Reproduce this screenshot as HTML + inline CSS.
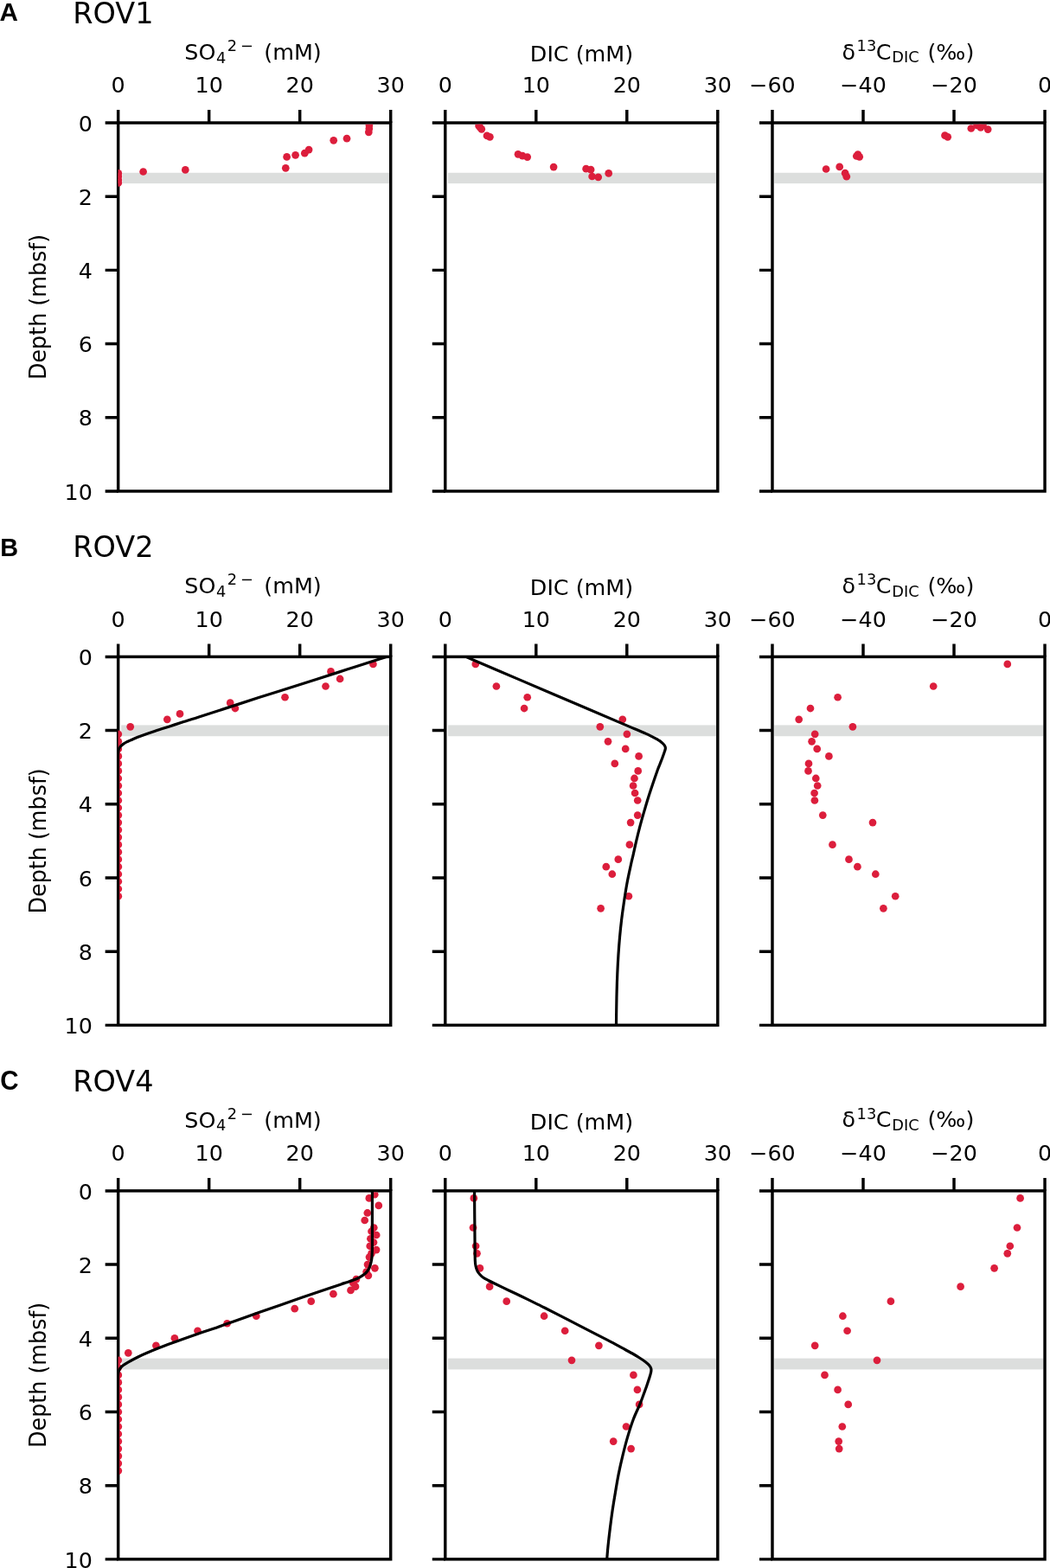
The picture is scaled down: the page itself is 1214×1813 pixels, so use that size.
<!DOCTYPE html>
<html lang="en">
<head>
<meta charset="utf-8">
<title>Porewater profiles ROV1, ROV2, ROV4</title>
<style>
html,body{margin:0;padding:0;background:#fff;}
svg{display:block;}
text{font-family:"DejaVu Sans", "Liberation Sans", sans-serif;fill:#000;}
.t{font-size:25.4px;}
.s{font-size:17.78px;}
.ttl{font-size:33.5px;}
.pl{font-size:30.2px;font-weight:bold;font-family:"Liberation Sans",sans-serif;}
.sp{fill:none;stroke:#000;stroke-width:3.45;stroke-linecap:square;}
.tk{fill:none;stroke:#000;stroke-width:3.45;stroke-linecap:butt;}
.cv{fill:none;stroke:#000;stroke-width:3.2;stroke-linejoin:round;stroke-linecap:butt;}
.d{fill:#dc1e3c;}
.b{fill:#dcdedd;}
</style>
</head>
<body>
<svg width="1214" height="1813" viewBox="0 0 1214 1813">
<rect x="0" y="0" width="1214" height="1813" fill="#fff"/>
<defs>
<clipPath id="c00"><rect x="135.65" y="142" width="316.05" height="425.95"/></clipPath>
<clipPath id="k00"><rect x="136.55" y="143.72" width="315.05" height="424.22"/></clipPath>
<clipPath id="c01"><rect x="513.76" y="142" width="316.05" height="425.95"/></clipPath>
<clipPath id="k01"><rect x="514.66" y="143.72" width="315.05" height="424.22"/></clipPath>
<clipPath id="c02"><rect x="891.98" y="142" width="316.05" height="425.95"/></clipPath>
<clipPath id="k02"><rect x="892.88" y="143.72" width="315.05" height="424.22"/></clipPath>
<clipPath id="c10"><rect x="135.65" y="759.4" width="316.05" height="425.95"/></clipPath>
<clipPath id="k10"><rect x="136.55" y="761.12" width="315.05" height="424.22"/></clipPath>
<clipPath id="c11"><rect x="513.76" y="759.4" width="316.05" height="425.95"/></clipPath>
<clipPath id="k11"><rect x="514.66" y="761.12" width="315.05" height="424.22"/></clipPath>
<clipPath id="c12"><rect x="891.98" y="759.4" width="316.05" height="425.95"/></clipPath>
<clipPath id="k12"><rect x="892.88" y="761.12" width="315.05" height="424.22"/></clipPath>
<clipPath id="c20"><rect x="135.65" y="1376.9" width="316.05" height="425.95"/></clipPath>
<clipPath id="k20"><rect x="136.55" y="1378.62" width="315.05" height="424.22"/></clipPath>
<clipPath id="c21"><rect x="513.76" y="1376.9" width="316.05" height="425.95"/></clipPath>
<clipPath id="k21"><rect x="514.66" y="1378.62" width="315.05" height="424.22"/></clipPath>
<clipPath id="c22"><rect x="891.98" y="1376.9" width="316.05" height="425.95"/></clipPath>
<clipPath id="k22"><rect x="892.88" y="1378.62" width="315.05" height="424.22"/></clipPath>
</defs>
<g id="row0">
<text class="pl" transform="translate(-0.4 23.9) scale(0.982 1.005)">A</text>
<text class="ttl" transform="translate(84.2 26.8) scale(1 1.001)">ROV1</text>
<text class="t" text-anchor="middle" transform="translate(53.1 354.98) rotate(-90) scale(1 1.045)">Depth (mbsf)</text>
<text class="t" text-anchor="end" transform="translate(106.9 151.7) scale(1 0.985)">0</text>
<text class="t" text-anchor="end" transform="translate(106.9 236.89) scale(1 0.985)">2</text>
<text class="t" text-anchor="end" transform="translate(106.9 322.08) scale(1 0.985)">4</text>
<text class="t" text-anchor="end" transform="translate(106.9 407.27) scale(1 0.985)">6</text>
<text class="t" text-anchor="end" transform="translate(106.9 492.46) scale(1 0.985)">8</text>
<text class="t" text-anchor="end" transform="translate(106.9 577.65) scale(1 0.985)">10</text>
<g id="p00">
<text class="t" transform="translate(213.28 68.7) scale(1 1.001)">SO</text><text class="s" transform="translate(249.88 72.5) scale(1 1.001)">4</text><text class="s" transform="translate(262.78 58.7) scale(1 1.001)">2</text><text class="s" transform="translate(278.07 58.7) scale(1 1.001)">−</text><text class="t" transform="translate(305.28 68.7) scale(1 1.001)">(mM)</text>
<text class="t" text-anchor="middle" transform="translate(136.65 107.4) scale(1 0.985)">0</text><text class="t" text-anchor="middle" transform="translate(241.67 107.4) scale(1 0.985)">10</text><text class="t" text-anchor="middle" transform="translate(346.68 107.4) scale(1 0.985)">20</text><text class="t" text-anchor="middle" transform="translate(451.7 107.4) scale(1 0.985)">30</text>
<rect class="b" x="141.45" y="199.76" width="308.75" height="12.35"/>
<path class="tk" d="M136.65 142 V127M241.67 142 V127M346.68 142 V127M451.7 142 V127M136.65 142 H121.65M136.65 227.19 H121.65M136.65 312.38 H121.65M136.65 397.57 H121.65M136.65 482.76 H121.65M136.65 567.95 H121.65"/>
<rect class="sp" x="136.65" y="142" width="315.05" height="425.95"/>
<g class="d" clip-path="url(#k00)"><circle cx="330.3" cy="194.3" r="4.35"/><circle cx="331.6" cy="181.4" r="4.35"/><circle cx="341.6" cy="179.3" r="4.35"/><circle cx="352.3" cy="177.2" r="4.35"/><circle cx="357.1" cy="173.1" r="4.35"/><circle cx="385.7" cy="162.3" r="4.35"/><circle cx="401" cy="160.2" r="4.35"/><circle cx="426.3" cy="152.8" r="4.35"/><circle cx="426.8" cy="148.8" r="4.35"/><circle cx="426.9" cy="144.9" r="4.35"/><circle cx="165.6" cy="198.5" r="4.35"/><circle cx="214.3" cy="196.4" r="4.35"/><circle cx="136.8" cy="200.4" r="4.35"/><circle cx="136.8" cy="204" r="4.35"/><circle cx="136.8" cy="208" r="4.35"/><circle cx="136.8" cy="211.4" r="4.35"/></g>
</g>
<g id="p01">
<text class="t" text-anchor="middle" transform="translate(672.49 70.6) scale(1 1.001)">DIC (mM)</text>
<text class="t" text-anchor="middle" transform="translate(514.76 107.4) scale(1 0.985)">0</text><text class="t" text-anchor="middle" transform="translate(619.78 107.4) scale(1 0.985)">10</text><text class="t" text-anchor="middle" transform="translate(724.79 107.4) scale(1 0.985)">20</text><text class="t" text-anchor="middle" transform="translate(829.81 107.4) scale(1 0.985)">30</text>
<rect class="b" x="517.96" y="199.76" width="310.35" height="12.35"/>
<path class="tk" d="M514.76 142 V127M619.78 142 V127M724.79 142 V127M829.81 142 V127M514.76 142 H499.76M514.76 227.19 H499.76M514.76 312.38 H499.76M514.76 397.57 H499.76M514.76 482.76 H499.76M514.76 567.95 H499.76"/>
<rect class="sp" x="514.76" y="142" width="315.05" height="425.95"/>
<g class="d" clip-path="url(#k01)"><circle cx="553.6" cy="145.4" r="4.35"/><circle cx="555" cy="147.2" r="4.35"/><circle cx="556.8" cy="149.3" r="4.35"/><circle cx="563" cy="156.9" r="4.35"/><circle cx="566.4" cy="158.3" r="4.35"/><circle cx="599" cy="178.3" r="4.35"/><circle cx="604.1" cy="180.2" r="4.35"/><circle cx="609.7" cy="181.6" r="4.35"/><circle cx="640.1" cy="193.1" r="4.35"/><circle cx="677.6" cy="195.2" r="4.35"/><circle cx="683.1" cy="196.2" r="4.35"/><circle cx="684.6" cy="204" r="4.35"/><circle cx="691.7" cy="204.8" r="4.35"/><circle cx="703.7" cy="200.4" r="4.35"/></g>
</g>
<g id="p02">
<text class="t" transform="translate(973.61 68.5) scale(1 1.001)">δ</text><text class="s" transform="translate(990.61 58.7) scale(1 1.001)">13</text><text class="t" transform="translate(1012.81 68.5) scale(1 1.001)">C</text><text class="s" transform="translate(1031.31 72.2) scale(1 1.001)">DIC</text><text class="t" transform="translate(1072.41 68.5) scale(1 1.001)">(‰)</text>
<text class="t" text-anchor="middle" transform="translate(892.98 107.4) scale(1 0.985)">−60</text><text class="t" text-anchor="middle" transform="translate(998 107.4) scale(1 0.985)">−40</text><text class="t" text-anchor="middle" transform="translate(1103.01 107.4) scale(1 0.985)">−20</text><text class="t" text-anchor="middle" transform="translate(1208.03 107.4) scale(1 0.985)">0</text>
<rect class="b" x="895.28" y="199.76" width="311.25" height="12.35"/>
<path class="tk" d="M892.98 142 V127M998 142 V127M1103.01 142 V127M1208.03 142 V127M892.98 142 H877.98M892.98 227.19 H877.98M892.98 312.38 H877.98M892.98 397.57 H877.98M892.98 482.76 H877.98M892.98 567.95 H877.98"/>
<rect class="sp" x="892.98" y="142" width="315.05" height="425.95"/>
<g class="d" clip-path="url(#k02)"><circle cx="955.1" cy="195.5" r="4.35"/><circle cx="970.7" cy="192.9" r="4.35"/><circle cx="977.1" cy="200.2" r="4.35"/><circle cx="978.8" cy="204.2" r="4.35"/><circle cx="991.9" cy="178.5" r="4.35"/><circle cx="993.7" cy="181.3" r="4.35"/><circle cx="990.3" cy="180.5" r="4.35"/><circle cx="1092.5" cy="156.7" r="4.35"/><circle cx="1095.7" cy="158.3" r="4.35"/><circle cx="1122.8" cy="148.5" r="4.35"/><circle cx="1129.5" cy="144.8" r="4.35"/><circle cx="1133.8" cy="147.3" r="4.35"/><circle cx="1136.5" cy="145" r="4.35"/><circle cx="1142.2" cy="149.6" r="4.35"/></g>
</g>
</g>
<g id="row1">
<text class="pl" transform="translate(0.165 643.0) scale(0.956 0.993)">B</text>
<text class="ttl" transform="translate(84.2 644.2) scale(1 1.001)">ROV2</text>
<text class="t" text-anchor="middle" transform="translate(53.1 972.38) rotate(-90) scale(1 1.045)">Depth (mbsf)</text>
<text class="t" text-anchor="end" transform="translate(106.9 769.1) scale(1 0.985)">0</text>
<text class="t" text-anchor="end" transform="translate(106.9 854.29) scale(1 0.985)">2</text>
<text class="t" text-anchor="end" transform="translate(106.9 939.48) scale(1 0.985)">4</text>
<text class="t" text-anchor="end" transform="translate(106.9 1024.67) scale(1 0.985)">6</text>
<text class="t" text-anchor="end" transform="translate(106.9 1109.86) scale(1 0.985)">8</text>
<text class="t" text-anchor="end" transform="translate(106.9 1195.05) scale(1 0.985)">10</text>
<g id="p10">
<text class="t" transform="translate(213.28 686.1) scale(1 1.001)">SO</text><text class="s" transform="translate(249.88 689.9) scale(1 1.001)">4</text><text class="s" transform="translate(262.78 676.1) scale(1 1.001)">2</text><text class="s" transform="translate(278.07 676.1) scale(1 1.001)">−</text><text class="t" transform="translate(305.28 686.1) scale(1 1.001)">(mM)</text>
<text class="t" text-anchor="middle" transform="translate(136.65 724.8) scale(1 0.985)">0</text><text class="t" text-anchor="middle" transform="translate(241.67 724.8) scale(1 0.985)">10</text><text class="t" text-anchor="middle" transform="translate(346.68 724.8) scale(1 0.985)">20</text><text class="t" text-anchor="middle" transform="translate(451.7 724.8) scale(1 0.985)">30</text>
<rect class="b" x="140.1" y="838.41" width="310.1" height="12.82"/>
<path class="tk" d="M136.65 759.4 V744.4M241.67 759.4 V744.4M346.68 759.4 V744.4M451.7 759.4 V744.4M136.65 759.4 H121.65M136.65 844.59 H121.65M136.65 929.78 H121.65M136.65 1014.97 H121.65M136.65 1100.16 H121.65M136.65 1185.35 H121.65"/>
<rect class="sp" x="136.65" y="759.4" width="315.05" height="425.95"/>
<g class="d" clip-path="url(#k10)"><circle cx="431.4" cy="767.92" r="4.35"/><circle cx="382.5" cy="776.44" r="4.35"/><circle cx="393.1" cy="784.96" r="4.35"/><circle cx="376.5" cy="793.48" r="4.35"/><circle cx="329.5" cy="806.25" r="4.35"/><circle cx="266.2" cy="812.64" r="4.35"/><circle cx="271.9" cy="819.03" r="4.35"/><circle cx="208" cy="825.42" r="4.35"/><circle cx="193.3" cy="831.81" r="4.35"/><circle cx="150.7" cy="840.33" r="4.35"/><circle cx="136.8" cy="848.85" r="4.35"/><circle cx="136.8" cy="857.37" r="4.35"/><circle cx="136.8" cy="865.89" r="4.35"/><circle cx="136.8" cy="874.41" r="4.35"/><circle cx="136.8" cy="882.93" r="4.35"/><circle cx="136.8" cy="891.44" r="4.35"/><circle cx="136.8" cy="899.96" r="4.35"/><circle cx="136.8" cy="908.48" r="4.35"/><circle cx="136.8" cy="917" r="4.35"/><circle cx="136.8" cy="925.52" r="4.35"/><circle cx="136.8" cy="934.04" r="4.35"/><circle cx="136.8" cy="942.56" r="4.35"/><circle cx="136.8" cy="951.08" r="4.35"/><circle cx="136.8" cy="959.6" r="4.35"/><circle cx="136.8" cy="968.12" r="4.35"/><circle cx="136.8" cy="976.63" r="4.35"/><circle cx="136.8" cy="985.15" r="4.35"/><circle cx="136.8" cy="993.67" r="4.35"/><circle cx="136.8" cy="1002.19" r="4.35"/><circle cx="136.8" cy="1010.71" r="4.35"/><circle cx="136.8" cy="1019.23" r="4.35"/><circle cx="136.8" cy="1027.75" r="4.35"/><circle cx="136.8" cy="1036.27" r="4.35"/></g>
<path class="cv" clip-path="url(#c10)" d="M446.8 759.4C444.68 760.08 441.7 761.05 434.1 763.5C426.5 765.95 412.72 770.4 401.2 774.1C389.68 777.8 382 780.28 365 785.7C348 791.12 321.7 799.38 299.2 806.6C276.7 813.82 244.47 824.33 230 829C215.53 833.67 218.08 832.78 212.4 834.6C206.72 836.42 201.4 838.13 195.9 839.9C190.4 841.67 184.9 843.37 179.4 845.2C173.9 847.03 167.02 849.4 162.9 850.9C158.78 852.4 157.43 853.03 154.7 854.2C151.97 855.37 148.55 856.87 146.5 857.9C144.45 858.93 143.63 859.52 142.4 860.4C141.17 861.28 139.93 862.25 139.1 863.2C138.27 864.15 137.82 864.88 137.4 866.1C136.98 867.32 136.73 868.52 136.55 870.5C136.38 872.48 136.38 873.08 136.35 878C136.32 882.92 136.35 879.67 136.35 900C136.35 920.33 136.35 952.33 136.35 1000C136.35 1047.67 136.35 1155 136.35 1186"/>
</g>
<g id="p11">
<text class="t" text-anchor="middle" transform="translate(672.49 688) scale(1 1.001)">DIC (mM)</text>
<text class="t" text-anchor="middle" transform="translate(514.76 724.8) scale(1 0.985)">0</text><text class="t" text-anchor="middle" transform="translate(619.78 724.8) scale(1 0.985)">10</text><text class="t" text-anchor="middle" transform="translate(724.79 724.8) scale(1 0.985)">20</text><text class="t" text-anchor="middle" transform="translate(829.81 724.8) scale(1 0.985)">30</text>
<rect class="b" x="517.96" y="838.41" width="310.35" height="12.82"/>
<path class="tk" d="M514.76 759.4 V744.4M619.78 759.4 V744.4M724.79 759.4 V744.4M829.81 759.4 V744.4M514.76 759.4 H499.76M514.76 844.59 H499.76M514.76 929.78 H499.76M514.76 1014.97 H499.76M514.76 1100.16 H499.76M514.76 1185.35 H499.76"/>
<rect class="sp" x="514.76" y="759.4" width="315.05" height="425.95"/>
<g class="d" clip-path="url(#k11)"><circle cx="549.8" cy="767.92" r="4.35"/><circle cx="573.9" cy="793.48" r="4.35"/><circle cx="609.7" cy="806.25" r="4.35"/><circle cx="606.1" cy="819.03" r="4.35"/><circle cx="719.8" cy="831.81" r="4.35"/><circle cx="693.8" cy="840.33" r="4.35"/><circle cx="724.9" cy="848.85" r="4.35"/><circle cx="703" cy="857.37" r="4.35"/><circle cx="723.2" cy="865.89" r="4.35"/><circle cx="738.6" cy="874.41" r="4.35"/><circle cx="710.8" cy="882.93" r="4.35"/><circle cx="737.7" cy="891.44" r="4.35"/><circle cx="733.5" cy="899.96" r="4.35"/><circle cx="732.1" cy="908.48" r="4.35"/><circle cx="734.1" cy="917" r="4.35"/><circle cx="737.2" cy="925.52" r="4.35"/><circle cx="737.2" cy="942.56" r="4.35"/><circle cx="729.1" cy="951.08" r="4.35"/><circle cx="727.9" cy="976.63" r="4.35"/><circle cx="714.8" cy="993.67" r="4.35"/><circle cx="700.8" cy="1002.19" r="4.35"/><circle cx="707.8" cy="1010.71" r="4.35"/><circle cx="726.9" cy="1036.27" r="4.35"/><circle cx="694.6" cy="1050.32" r="4.35"/></g>
<path class="cv" clip-path="url(#c11)" d="M538.6 759.4C548.83 763.77 579.77 776.95 600 785.6C620.23 794.25 640 802.75 660 811.3C680 819.85 707.8 831.7 720 836.9C732.2 842.1 728.8 840.63 733.2 842.5C737.6 844.37 743.12 846.65 746.4 848.1C749.68 849.55 750.72 850.1 752.9 851.2C755.08 852.3 757.52 853.52 759.5 854.7C761.48 855.88 763.37 857.15 764.8 858.3C766.23 859.45 767.33 860.5 768.1 861.6C768.87 862.7 769.35 863.68 769.4 864.9C769.45 866.12 768.95 867.13 768.4 868.9C767.85 870.67 767.03 872.98 766.1 875.5C765.17 878.02 763.75 881.58 762.8 884C761.85 886.42 761.75 886.25 760.4 890C759.05 893.75 756.55 901.02 754.7 906.5C752.85 911.98 751.02 917.42 749.3 922.9C747.58 928.38 745.98 933.9 744.4 939.4C742.82 944.9 741.25 950.4 739.8 955.9C738.35 961.4 737 966.92 735.7 972.4C734.4 977.88 733.05 984.2 732 988.8C730.95 993.4 730.57 994.63 729.4 1000C728.23 1005.37 726.3 1014.02 725 1021C723.7 1027.98 722.65 1034.92 721.6 1041.9C720.55 1048.88 719.55 1055.9 718.7 1062.9C717.85 1069.9 717.13 1076.92 716.5 1083.9C715.87 1090.88 715.35 1097.82 714.9 1104.8C714.45 1111.78 714.1 1118.8 713.8 1125.8C713.5 1132.8 713.28 1139.82 713.1 1146.8C712.92 1153.78 712.8 1161.27 712.7 1167.7C712.6 1174.13 712.53 1182.45 712.5 1185.4"/>
</g>
<g id="p12">
<text class="t" transform="translate(973.61 685.9) scale(1 1.001)">δ</text><text class="s" transform="translate(990.61 676.1) scale(1 1.001)">13</text><text class="t" transform="translate(1012.81 685.9) scale(1 1.001)">C</text><text class="s" transform="translate(1031.31 689.6) scale(1 1.001)">DIC</text><text class="t" transform="translate(1072.41 685.9) scale(1 1.001)">(‰)</text>
<text class="t" text-anchor="middle" transform="translate(892.98 724.8) scale(1 0.985)">−60</text><text class="t" text-anchor="middle" transform="translate(998 724.8) scale(1 0.985)">−40</text><text class="t" text-anchor="middle" transform="translate(1103.01 724.8) scale(1 0.985)">−20</text><text class="t" text-anchor="middle" transform="translate(1208.03 724.8) scale(1 0.985)">0</text>
<rect class="b" x="895.28" y="838.41" width="311.25" height="12.82"/>
<path class="tk" d="M892.98 759.4 V744.4M998 759.4 V744.4M1103.01 759.4 V744.4M1208.03 759.4 V744.4M892.98 759.4 H877.98M892.98 844.59 H877.98M892.98 929.78 H877.98M892.98 1014.97 H877.98M892.98 1100.16 H877.98M892.98 1185.35 H877.98"/>
<rect class="sp" x="892.98" y="759.4" width="315.05" height="425.95"/>
<g class="d" clip-path="url(#k12)"><circle cx="1164.8" cy="767.92" r="4.35"/><circle cx="1079.2" cy="793.48" r="4.35"/><circle cx="968.6" cy="806.25" r="4.35"/><circle cx="937" cy="819.03" r="4.35"/><circle cx="923.7" cy="831.81" r="4.35"/><circle cx="985.9" cy="840.33" r="4.35"/><circle cx="942.2" cy="848.85" r="4.35"/><circle cx="938.6" cy="857.37" r="4.35"/><circle cx="944.7" cy="865.89" r="4.35"/><circle cx="958.4" cy="874.41" r="4.35"/><circle cx="935" cy="882.93" r="4.35"/><circle cx="934.5" cy="891.44" r="4.35"/><circle cx="943.3" cy="899.96" r="4.35"/><circle cx="945.2" cy="908.48" r="4.35"/><circle cx="941.6" cy="917" r="4.35"/><circle cx="941.9" cy="925.52" r="4.35"/><circle cx="951.3" cy="942.56" r="4.35"/><circle cx="1009" cy="951.08" r="4.35"/><circle cx="962.5" cy="976.63" r="4.35"/><circle cx="981.5" cy="993.67" r="4.35"/><circle cx="991.4" cy="1002.19" r="4.35"/><circle cx="1012.3" cy="1010.71" r="4.35"/><circle cx="1035.2" cy="1036.27" r="4.35"/><circle cx="1021.4" cy="1050.32" r="4.35"/></g>
</g>
</g>
<g id="row2">
<text class="pl" transform="translate(0.3 1260.02) scale(0.978 1.0225)">C</text>
<text class="ttl" transform="translate(84.2 1261.7) scale(1 1.001)">ROV4</text>
<text class="t" text-anchor="middle" transform="translate(53.1 1589.88) rotate(-90) scale(1 1.045)">Depth (mbsf)</text>
<text class="t" text-anchor="end" transform="translate(106.9 1386.6) scale(1 0.985)">0</text>
<text class="t" text-anchor="end" transform="translate(106.9 1471.79) scale(1 0.985)">2</text>
<text class="t" text-anchor="end" transform="translate(106.9 1556.98) scale(1 0.985)">4</text>
<text class="t" text-anchor="end" transform="translate(106.9 1642.17) scale(1 0.985)">6</text>
<text class="t" text-anchor="end" transform="translate(106.9 1727.36) scale(1 0.985)">8</text>
<text class="t" text-anchor="end" transform="translate(106.9 1812.55) scale(1 0.985)">10</text>
<g id="p20">
<text class="t" transform="translate(213.28 1303.6) scale(1 1.001)">SO</text><text class="s" transform="translate(249.88 1307.4) scale(1 1.001)">4</text><text class="s" transform="translate(262.78 1293.6) scale(1 1.001)">2</text><text class="s" transform="translate(278.07 1293.6) scale(1 1.001)">−</text><text class="t" transform="translate(305.28 1303.6) scale(1 1.001)">(mM)</text>
<text class="t" text-anchor="middle" transform="translate(136.65 1342.3) scale(1 0.985)">0</text><text class="t" text-anchor="middle" transform="translate(241.67 1342.3) scale(1 0.985)">10</text><text class="t" text-anchor="middle" transform="translate(346.68 1342.3) scale(1 0.985)">20</text><text class="t" text-anchor="middle" transform="translate(451.7 1342.3) scale(1 0.985)">30</text>
<rect class="b" x="141.15" y="1570.58" width="309.05" height="12.84"/>
<path class="tk" d="M136.65 1376.9 V1361.9M241.67 1376.9 V1361.9M346.68 1376.9 V1361.9M451.7 1376.9 V1361.9M136.65 1376.9 H121.65M136.65 1462.09 H121.65M136.65 1547.28 H121.65M136.65 1632.47 H121.65M136.65 1717.66 H121.65M136.65 1802.85 H121.65"/>
<rect class="sp" x="136.65" y="1376.9" width="315.05" height="425.95"/>
<g class="d" clip-path="url(#k20)"><circle cx="433.2" cy="1381.16" r="4.35"/><circle cx="426.8" cy="1385.42" r="4.35"/><circle cx="437.8" cy="1393.94" r="4.35"/><circle cx="424.8" cy="1402.46" r="4.35"/><circle cx="421.7" cy="1410.98" r="4.35"/><circle cx="432.3" cy="1419.5" r="4.35"/><circle cx="429.5" cy="1423.75" r="4.35"/><circle cx="435.2" cy="1428.01" r="4.35"/><circle cx="428.4" cy="1432.27" r="4.35"/><circle cx="432" cy="1436.53" r="4.35"/><circle cx="427.7" cy="1440.79" r="4.35"/><circle cx="435.1" cy="1445.05" r="4.35"/><circle cx="429.5" cy="1449.31" r="4.35"/><circle cx="427" cy="1453.57" r="4.35"/><circle cx="425" cy="1462.09" r="4.35"/><circle cx="433.4" cy="1466.35" r="4.35"/><circle cx="423.6" cy="1470.61" r="4.35"/><circle cx="425.9" cy="1474.87" r="4.35"/><circle cx="411.9" cy="1479.13" r="4.35"/><circle cx="408.3" cy="1483.39" r="4.35"/><circle cx="411" cy="1487.65" r="4.35"/><circle cx="405.5" cy="1491.91" r="4.35"/><circle cx="385.4" cy="1496.17" r="4.35"/><circle cx="359.7" cy="1504.69" r="4.35"/><circle cx="340.7" cy="1513.2" r="4.35"/><circle cx="296.3" cy="1521.72" r="4.35"/><circle cx="262.6" cy="1530.24" r="4.35"/><circle cx="228.5" cy="1538.76" r="4.35"/><circle cx="201.9" cy="1547.28" r="4.35"/><circle cx="180.4" cy="1555.8" r="4.35"/><circle cx="148.3" cy="1564.32" r="4.35"/><circle cx="136.8" cy="1572.84" r="4.35"/><circle cx="136.8" cy="1581.36" r="4.35"/><circle cx="136.8" cy="1589.88" r="4.35"/><circle cx="136.8" cy="1598.39" r="4.35"/><circle cx="136.8" cy="1606.91" r="4.35"/><circle cx="136.8" cy="1615.43" r="4.35"/><circle cx="136.8" cy="1623.95" r="4.35"/><circle cx="136.8" cy="1632.47" r="4.35"/><circle cx="136.8" cy="1640.99" r="4.35"/><circle cx="136.8" cy="1649.51" r="4.35"/><circle cx="136.8" cy="1658.03" r="4.35"/><circle cx="136.8" cy="1666.55" r="4.35"/><circle cx="136.8" cy="1675.07" r="4.35"/><circle cx="136.8" cy="1683.58" r="4.35"/><circle cx="136.8" cy="1692.1" r="4.35"/><circle cx="136.8" cy="1700.62" r="4.35"/></g>
<path class="cv" clip-path="url(#c20)" d="M430.4 1376.9C430.4 1380.75 430.4 1391.98 430.4 1400C430.4 1408.02 430.4 1418.05 430.4 1425C430.4 1431.95 430.43 1437.72 430.4 1441.7C430.37 1445.68 430.32 1446.52 430.2 1448.9C430.08 1451.28 430.07 1453.62 429.7 1456C429.33 1458.38 428.63 1461.17 428 1463.2C427.37 1465.23 426.85 1466.65 425.9 1468.2C424.95 1469.75 423.97 1471.07 422.3 1472.5C420.63 1473.93 418.17 1475.53 415.9 1476.8C413.63 1478.07 411.35 1479.07 408.7 1480.1C406.05 1481.13 402.4 1482.2 400 1483C397.6 1483.8 397.63 1483.77 394.3 1484.9C390.97 1486.03 387.57 1487.23 380 1489.8C372.43 1492.37 362.33 1495.67 348.9 1500.3C335.47 1504.93 313.38 1512.68 299.4 1517.6C285.42 1522.52 273.23 1526.87 265 1529.8C256.77 1532.73 256.03 1533.13 250 1535.2C243.97 1537.27 238.1 1538.97 228.8 1542.2C219.5 1545.43 203.82 1551 194.2 1554.6C184.58 1558.2 176.87 1561.4 171.1 1563.8C165.33 1566.2 163.43 1567.12 159.6 1569C155.77 1570.88 150.98 1573.47 148.1 1575.1C145.22 1576.73 143.85 1577.6 142.3 1578.8C140.75 1580 139.67 1581.15 138.8 1582.3C137.93 1583.45 137.48 1584.33 137.1 1585.7C136.72 1587.07 136.62 1588.45 136.5 1590.5C136.38 1592.55 136.38 1593.08 136.35 1598C136.32 1602.92 136.35 1603 136.35 1620C136.35 1637 136.35 1669.5 136.35 1700C136.35 1730.5 136.35 1785.83 136.35 1803"/>
</g>
<g id="p21">
<text class="t" text-anchor="middle" transform="translate(672.49 1305.5) scale(1 1.001)">DIC (mM)</text>
<text class="t" text-anchor="middle" transform="translate(514.76 1342.3) scale(1 0.985)">0</text><text class="t" text-anchor="middle" transform="translate(619.78 1342.3) scale(1 0.985)">10</text><text class="t" text-anchor="middle" transform="translate(724.79 1342.3) scale(1 0.985)">20</text><text class="t" text-anchor="middle" transform="translate(829.81 1342.3) scale(1 0.985)">30</text>
<rect class="b" x="517.96" y="1570.58" width="310.35" height="12.84"/>
<path class="tk" d="M514.76 1376.9 V1361.9M619.78 1376.9 V1361.9M724.79 1376.9 V1361.9M829.81 1376.9 V1361.9M514.76 1376.9 H499.76M514.76 1462.09 H499.76M514.76 1547.28 H499.76M514.76 1632.47 H499.76M514.76 1717.66 H499.76M514.76 1802.85 H499.76"/>
<rect class="sp" x="514.76" y="1376.9" width="315.05" height="425.95"/>
<g class="d" clip-path="url(#k21)"><circle cx="547.8" cy="1385.42" r="4.35"/><circle cx="547" cy="1419.5" r="4.35"/><circle cx="550.1" cy="1440.79" r="4.35"/><circle cx="551.5" cy="1449.31" r="4.35"/><circle cx="554.9" cy="1466.35" r="4.35"/><circle cx="566.1" cy="1487.65" r="4.35"/><circle cx="585.7" cy="1504.69" r="4.35"/><circle cx="629.1" cy="1521.72" r="4.35"/><circle cx="653.2" cy="1538.76" r="4.35"/><circle cx="692.4" cy="1555.8" r="4.35"/><circle cx="661" cy="1572.84" r="4.35"/><circle cx="732.4" cy="1589.88" r="4.35"/><circle cx="736.9" cy="1606.91" r="4.35"/><circle cx="739.1" cy="1623.95" r="4.35"/><circle cx="724" cy="1649.51" r="4.35"/><circle cx="709.2" cy="1666.55" r="4.35"/><circle cx="729.6" cy="1675.07" r="4.35"/></g>
<path class="cv" clip-path="url(#c21)" d="M548.6 1376.9C548.62 1380.75 548.65 1392.82 548.7 1400C548.75 1407.18 548.83 1412.55 548.9 1420C548.97 1427.45 549.03 1438.52 549.1 1444.7C549.17 1450.88 549.15 1453.93 549.3 1457.1C549.45 1460.27 549.58 1461.65 550 1463.7C550.42 1465.75 551.02 1467.77 551.8 1469.4C552.58 1471.03 553.53 1472.2 554.7 1473.5C555.87 1474.8 557.15 1476.03 558.8 1477.2C560.45 1478.37 562.53 1479.4 564.6 1480.5C566.67 1481.6 567.35 1481.93 571.2 1483.8C575.05 1485.67 582.22 1489.08 587.7 1491.7C593.18 1494.32 598.62 1496.85 604.1 1499.5C609.58 1502.15 616.28 1505.47 620.6 1507.6C624.92 1509.73 623.43 1508.97 630 1512.3C636.57 1515.63 650 1522.45 660 1527.6C670 1532.75 682.25 1539.2 690 1543.2C697.75 1547.2 701.02 1548.72 706.5 1551.6C711.98 1554.48 718.78 1558.27 722.9 1560.5C727.02 1562.73 728.45 1563.42 731.2 1565C733.95 1566.58 736.93 1568.42 739.4 1570C741.87 1571.58 744.15 1573.07 746 1574.5C747.85 1575.93 749.37 1577.23 750.5 1578.6C751.63 1579.97 752.45 1581.33 752.8 1582.7C753.15 1584.07 752.9 1585.15 752.6 1586.8C752.3 1588.45 751.82 1589.98 751 1592.6C750.18 1595.22 748.95 1598.93 747.7 1602.5C746.45 1606.07 744.83 1610.42 743.5 1614C742.17 1617.58 741.57 1619.5 739.7 1624C737.83 1628.5 734.67 1634.68 732.3 1641C729.93 1647.32 727.55 1654.92 725.5 1661.9C723.45 1668.88 721.7 1675.9 720 1682.9C718.3 1689.9 716.7 1696.92 715.3 1703.9C713.9 1710.88 712.78 1717.82 711.6 1724.8C710.42 1731.78 709.23 1738.8 708.2 1745.8C707.17 1752.8 706.27 1759.82 705.4 1766.8C704.53 1773.78 703.62 1781.68 703 1787.7C702.38 1793.72 701.92 1800.37 701.7 1802.9"/>
</g>
<g id="p22">
<text class="t" transform="translate(973.61 1303.4) scale(1 1.001)">δ</text><text class="s" transform="translate(990.61 1293.6) scale(1 1.001)">13</text><text class="t" transform="translate(1012.81 1303.4) scale(1 1.001)">C</text><text class="s" transform="translate(1031.31 1307.1) scale(1 1.001)">DIC</text><text class="t" transform="translate(1072.41 1303.4) scale(1 1.001)">(‰)</text>
<text class="t" text-anchor="middle" transform="translate(892.98 1342.3) scale(1 0.985)">−60</text><text class="t" text-anchor="middle" transform="translate(998 1342.3) scale(1 0.985)">−40</text><text class="t" text-anchor="middle" transform="translate(1103.01 1342.3) scale(1 0.985)">−20</text><text class="t" text-anchor="middle" transform="translate(1208.03 1342.3) scale(1 0.985)">0</text>
<rect class="b" x="895.28" y="1570.58" width="311.25" height="12.84"/>
<path class="tk" d="M892.98 1376.9 V1361.9M998 1376.9 V1361.9M1103.01 1376.9 V1361.9M1208.03 1376.9 V1361.9M892.98 1376.9 H877.98M892.98 1462.09 H877.98M892.98 1547.28 H877.98M892.98 1632.47 H877.98M892.98 1717.66 H877.98M892.98 1802.85 H877.98"/>
<rect class="sp" x="892.98" y="1376.9" width="315.05" height="425.95"/>
<g class="d" clip-path="url(#k22)"><circle cx="1179.6" cy="1385.42" r="4.35"/><circle cx="1176" cy="1419.5" r="4.35"/><circle cx="1167.8" cy="1440.79" r="4.35"/><circle cx="1164.8" cy="1449.31" r="4.35"/><circle cx="1149.6" cy="1466.35" r="4.35"/><circle cx="1110.6" cy="1487.65" r="4.35"/><circle cx="1029.9" cy="1504.69" r="4.35"/><circle cx="974.4" cy="1521.72" r="4.35"/><circle cx="979.6" cy="1538.76" r="4.35"/><circle cx="942.2" cy="1555.8" r="4.35"/><circle cx="1014" cy="1572.84" r="4.35"/><circle cx="953.5" cy="1589.88" r="4.35"/><circle cx="968.6" cy="1606.91" r="4.35"/><circle cx="980.7" cy="1623.95" r="4.35"/><circle cx="973.8" cy="1649.51" r="4.35"/><circle cx="969.7" cy="1666.55" r="4.35"/><circle cx="970.2" cy="1675.07" r="4.35"/></g>
</g>
</g>
</svg>
</body>
</html>
